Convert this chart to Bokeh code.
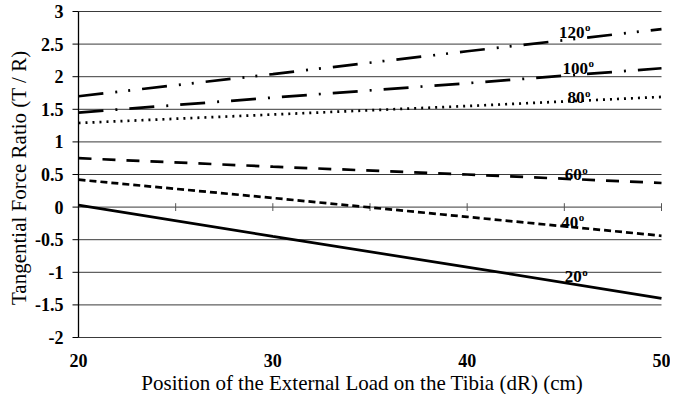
import math
from bokeh.plotting import figure
from bokeh.models import Range1d, ColumnDataSource
from bokeh.core.properties import value
from bokeh.embed import file_html
from bokeh.resources import INLINE

# ---- data ----
positions = [20, 30, 40, 50]
angle_labels = ["20", "40", "60", "80", "100", "120"]
ratio_20 = [0.03, -0.45, -0.92, -1.40]
ratio_40 = [0.42, 0.14, -0.15, -0.44]
ratio_60 = [0.75, 0.62, 0.50, 0.37]
ratio_80 = [1.29, 1.42, 1.55, 1.69]
ratio_100 = [1.45, 1.68, 1.90, 2.13]
ratio_120 = [1.70, 2.04, 2.39, 2.73]
label_x = [45.89, 45.72, 45.89, 46.04, 46.22, 46.04]
label_y = [-1.07, -0.23, 0.50, 1.68, 2.13, 2.68]
zero_ticks = [25, 30, 35, 40, 45, 50]
x_tick_labels = [20, 30, 40, 50]
y_ticks = [-2, -1.5, -1, -0.5, 0, 0.5, 1, 1.5, 2, 2.5, 3]
y_tick_text = ["-2", "-1.5", "-1", "-0.5", "0", "0.5", "1", "1.5", "2", "2.5", "3"]
y_title = "Tangential Force Ratio (T / R)"
x_title = "Position of the External Load on the Tibia (dR) (cm)"

SERIF = value("Liberation Serif, serif")

# ---- layout (pixels) ----
W, H = 670, 394
PX_LEFT, PX_RIGHT, PX_TOP, PX_BOTTOM = 78, 661, 11, 337
XMIN, XMAX = positions[0], positions[-1]
YMIN, YMAX = y_ticks[0], y_ticks[-1]
sx = (PX_RIGHT - PX_LEFT) / (XMAX - XMIN)
sy = (PX_BOTTOM - PX_TOP) / (YMAX - YMIN)
x_start = XMIN - PX_LEFT / sx
y_end = YMAX + PX_TOP / sy

p = figure(width=W, height=H, output_backend="svg", toolbar_location=None,
           x_range=Range1d(x_start, x_start + W / sx),
           y_range=Range1d(y_end - H / sy, y_end),
           x_axis_location=None, y_axis_location=None,
           min_border=0, min_border_left=0, min_border_right=0,
           min_border_top=0, min_border_bottom=0)
p.outline_line_color = None
p.background_fill_color = "white"
p.border_fill_color = "white"
p.xgrid.visible = False
p.ygrid.visible = False

n = len(y_ticks)
# horizontal gridlines
p.segment(x0=[XMIN] * n, x1=[XMAX] * n, y0=y_ticks, y1=y_ticks,
          line_color="#3a3a3a", line_width=1)
# vertical axis line with outward ticks
p.segment(x0=[XMIN], x1=[XMIN], y0=[YMIN], y1=[YMAX], line_color="black", line_width=1.3)
p.ray(x=[XMIN] * n, y=y_ticks, length=6, length_units="screen", angle=math.pi,
      line_color="black", line_width=1)
# tick marks on the zero line
p.segment(x0=zero_ticks, x1=zero_ticks, y0=[-0.06] * len(zero_ticks), y1=[0.06] * len(zero_ticks),
          line_color="#555555", line_width=1)

# y tick labels and title
ysrc = ColumnDataSource(dict(x=[XMIN] * n, y=y_ticks, t=y_tick_text))
p.text(x="x", y="y", text="t", source=ysrc, x_offset=-15,
       text_align="right", text_baseline="middle",
       text_font=SERIF, text_font_style="bold", text_font_size="18px", text_color="black")
tsrc = ColumnDataSource(dict(x=[XMIN], y=[0.45], t=[y_title]))
p.text(x="x", y="y", text="t", source=tsrc, x_offset=-PX_LEFT + 18, angle=math.pi / 2,
       text_align="center", text_baseline="middle",
       text_font=SERIF, text_font_style="normal", text_font_size="21px", text_color="black")

# x tick labels and title
m = len(x_tick_labels)
xsrc = ColumnDataSource(dict(x=x_tick_labels, y=[YMIN] * m, t=[str(v) for v in x_tick_labels]))
p.text(x="x", y="y", text="t", source=xsrc, y_offset=23,
       text_align="center", text_baseline="middle",
       text_font=SERIF, text_font_style="bold", text_font_size="18px", text_color="black")
p.text(x=[34.6], y=[YMIN], text=[x_title], y_offset=45,
       text_align="center", text_baseline="middle",
       text_font=SERIF, text_font_style="normal", text_font_size="21px", text_color="black")

# series
styles = [
    (ratio_20, "solid"),
    (ratio_40, "7 4"),
    (ratio_60, "13 11"),
    (ratio_80, "2 5"),
    (ratio_100, "25 12 2 12"),
    (ratio_120, "25 12 2 11 2 12"),
]
for ys, dash in styles:
    p.line(positions, ys, line_color="black", line_width=2.7, line_dash=dash)

# angle labels
src = ColumnDataSource(dict(x=label_x, y=label_y, t=angle_labels, o=["o"] * len(angle_labels)))
p.text(x="x", y="y", text="t", source=src, text_align="right", text_baseline="middle",
       text_font=SERIF, text_font_style="bold", text_font_size="17px", text_color="black")
p.text(x="x", y="y", text="o", source=src, text_align="left", text_baseline="middle",
       x_offset=0.5, y_offset=-5,
       text_font=SERIF, text_font_style="bold", text_font_size="11px", text_color="black")

open("out.html", "w").write(file_html(p, INLINE))
